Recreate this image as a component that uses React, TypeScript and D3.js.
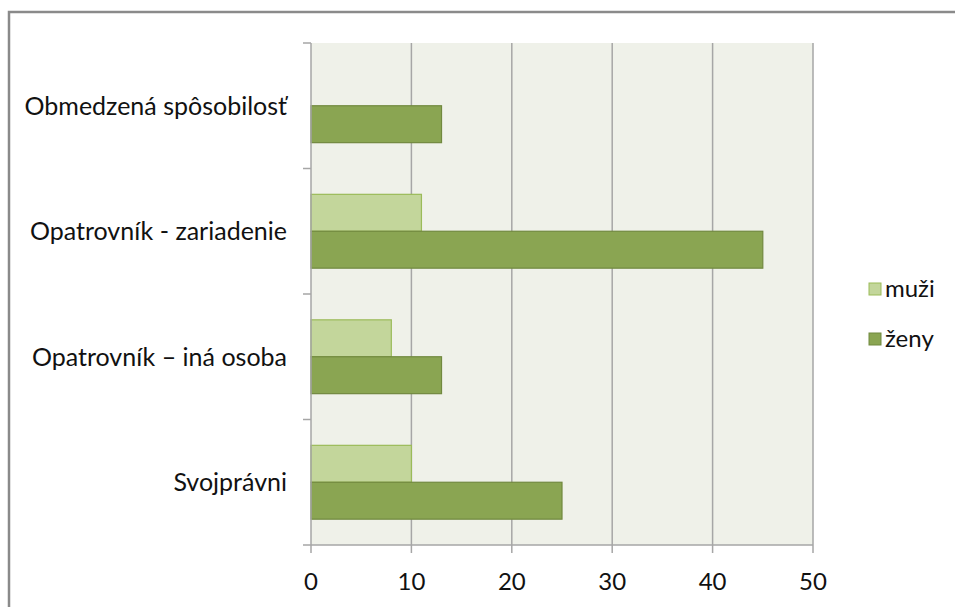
import React, { useEffect, useRef } from 'react'
import * as d3 from 'd3'

const categories = ['Obmedzená spôsobilosť', 'Opatrovník - zariadenie', 'Opatrovník – iná osoba', 'Svojprávni']
const seriesNames = ['muži', 'ženy']
const muzi = [0, 11, 8, 10]
const zeny = [13, 45, 13, 25]
const xTicks = [0, 10, 20, 30, 40, 50]

const fills = ['#c3d69b', '#8aa552']
const strokes = ['#9bbb59', '#71893f']

export default function App() {
    const ref = useRef<SVGSVGElement>(null)
    const width = 955
    const height = 607
    const plot = { left: 311, right: 813, top: 43, bottom: 545 }
    const font = 'Lato, Calibri, "Open Sans", sans-serif'

    useEffect(() => {
        const svg = d3.select(ref.current)
        svg.selectAll('*').remove()

        // outer frame (cropped on right and bottom)
        svg.append('rect')
            .attr('x', 9).attr('y', 12)
            .attr('width', 1000).attr('height', 1000)
            .attr('fill', 'white')
            .attr('stroke', '#8a8a8a')
            .attr('stroke-width', 2.5)

        const x = d3.scaleLinear().domain([0, 50]).range([plot.left, plot.right])
        const y = d3.scaleBand().domain(categories).range([plot.top, plot.bottom])
        const inner = d3.scaleBand().domain(seriesNames).range([0, y.bandwidth()]).paddingInner(0).paddingOuter(0.7)

        svg.append('rect')
            .attr('x', plot.left).attr('y', plot.top)
            .attr('width', plot.right - plot.left).attr('height', plot.bottom - plot.top)
            .attr('fill', '#eff1e9')

        // gridlines
        svg.append('g').selectAll('line')
            .data(xTicks.filter(d => d > 0))
            .enter().append('line')
            .attr('x1', d => x(d)).attr('x2', d => x(d))
            .attr('y1', plot.top).attr('y2', plot.bottom + 8)
            .attr('stroke', '#a6a6a6').attr('stroke-width', 1.5)

        const rows = categories.map((c, i) => ({ c, vals: [muzi[i], zeny[i]] }))
        const g = svg.append('g').selectAll('g')
            .data(rows)
            .enter().append('g')
            .attr('transform', d => `translate(0,${y(d.c)})`)

        g.selectAll('rect')
            .data(d => d.vals.map((v, k) => ({ v, k })).filter(e => e.v > 0))
            .enter().append('rect')
            .attr('x', x(0))
            .attr('y', e => inner(seriesNames[e.k]) as number)
            .attr('width', e => x(e.v) - x(0))
            .attr('height', inner.bandwidth())
            .attr('fill', e => fills[e.k])
            .attr('stroke', e => strokes[e.k])
            .attr('stroke-width', 1.2)

        // axes lines
        svg.append('line')
            .attr('x1', plot.left).attr('x2', plot.left)
            .attr('y1', plot.top).attr('y2', plot.bottom + 8)
            .attr('stroke', '#a6a6a6').attr('stroke-width', 1.5)
        svg.append('line')
            .attr('x1', plot.left - 8).attr('x2', plot.right)
            .attr('y1', plot.bottom).attr('y2', plot.bottom)
            .attr('stroke', '#a6a6a6').attr('stroke-width', 1.5)

        // category ticks
        const bounds = categories.map(c => y(c) as number)
        svg.append('g').selectAll('line')
            .data(bounds)
            .enter().append('line')
            .attr('x1', plot.left - 8).attr('x2', plot.left)
            .attr('y1', d => d).attr('y2', d => d)
            .attr('stroke', '#a6a6a6').attr('stroke-width', 1.5)

        // labels
        svg.append('g').selectAll('text')
            .data(categories)
            .enter().append('text')
            .attr('x', plot.left - 24)
            .attr('y', d => (y(d) as number) + y.bandwidth() / 2)
            .attr('dy', '0.35em')
            .attr('text-anchor', 'end')
            .style('font-family', font).style('font-size', '25px').attr('fill', '#111')
            .text(d => d)

        svg.append('g').selectAll('text')
            .data(xTicks)
            .enter().append('text')
            .attr('x', d => x(d))
            .attr('y', 590)
            .attr('text-anchor', 'middle')
            .style('font-family', font).style('font-size', '24px').attr('fill', '#111')
            .text(d => d)

        // legend
        const leg = svg.append('g').selectAll('g')
            .data(seriesNames)
            .enter().append('g')
            .attr('transform', (d, i) => `translate(869,${283 + i * 50})`)
        leg.append('rect')
            .attr('width', 12).attr('height', 12)
            .attr('fill', (d, i) => fills[i])
            .attr('stroke', (d, i) => strokes[i])
        leg.append('text')
            .attr('x', 16).attr('y', 6).attr('dy', '0.35em')
            .style('font-family', font).style('font-size', '24px').attr('fill', '#111')
            .text(d => d)
    }, [])

    return (
        <svg ref={ref} width={width} height={height}
            style={{ position: 'absolute', left: 0, top: 0, background: 'white' }}></svg>
    )
}
